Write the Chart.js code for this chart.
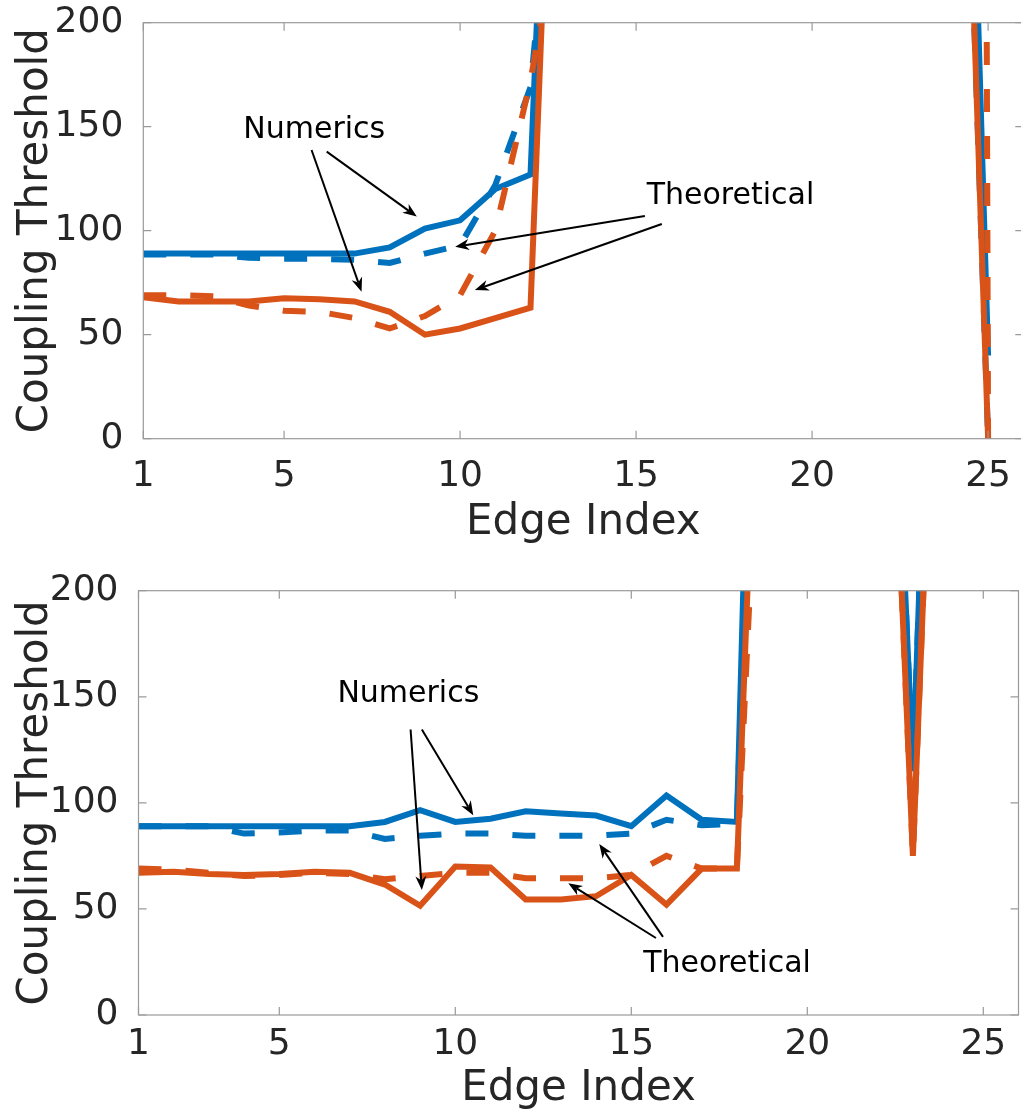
<!DOCTYPE html>
<html>
<head>
<meta charset="utf-8">
<script src="https://cdn.jsdelivr.net/npm/chart.js@4.4.0/dist/chart.umd.min.js"></script>
<style>
  html, body { margin: 0; padding: 0; background: #fff; overflow: hidden; }
  #wrap { position: relative; width: 1021px; height: 1114px; overflow: hidden; }
  canvas { position: absolute; left: 0; }
</style>
</head>
<body>
<div id="wrap">
  <canvas id="topChart" width="1060" height="571" style="top:-11px"></canvas>
  <canvas id="botChart" width="1021" height="557" style="top:557px"></canvas>
</div>
<script>
// edge indices and coupling thresholds
const EDGE_INDEX = [1, 2, 3, 4, 5, 6, 7, 8, 9, 10, 11, 12, 13, 14, 15, 16, 17, 18, 19, 20, 21, 22, 23, 24, 25];
const X_TICKS = [1, 5, 10, 15, 20, 25];
const Y_TICKS = [0, 50, 100, 150, 200];

// top panel (values above 200 run off the axes)
const TOP_NUM_BLUE = [89, 89, 89, 89, 89, 89, 89, 92, 101, 105, 120, 127, 532, 560, 575, 590, 600, 610, 615, 620, 620, 615, 610, 611, 40];
const TOP_NUM_ORANGE = [68, 66, 66, 66, 67.5, 67, 66, 61, 50, 53, 58, 63, 494, 500, 505, 510, 515, 515, 510, 510, 505, 505, 505, 506, 0];
const TOP_THEO_BLUE = [88.5, 88.5, 88.5, 87, 86.5, 86.5, 86, 84.5, 89, 93, 122, 169, 345, 900, 1500, 2500, 3000, 3500, 4000, 4500, 4800, 5000, 3000, 506, 0];
const TOP_THEO_ORANGE = [69, 69, 68.5, 64, 61.5, 61, 58, 53, 59, 69, 100, 172, 270, 800, 1400, 2200, 2800, 3300, 3800, 4300, 4700, 5000, 5000, 5000, 0];

// bottom panel
const BOT_NUM_BLUE = [89, 89, 89, 89, 89, 89, 89, 91, 96.5, 91, 92.5, 96, 95, 94, 89, 103.5, 92, 91, 696, 650, 600, 501, 115, 587, 600];
const BOT_NUM_ORANGE = [67, 67.5, 66.5, 66, 66.5, 67.5, 67, 61.5, 51.5, 70, 69.5, 54.5, 54.5, 56, 66, 52, 69, 69, 506, 480, 470, 466, 75, 492, 500];
const BOT_THEO_BLUE = [89, 89, 89, 85.5, 86, 87, 87, 83, 84.5, 85.5, 85.5, 84.5, 84.5, 84.5, 85.5, 92, 89.5, 90, 600, 560, 530, 501, 115, 587, 600];
const BOT_THEO_ORANGE = [69, 68.5, 67, 65.5, 66, 67, 66.5, 64, 65.5, 67, 67, 64.5, 64.5, 64.5, 66, 75, 69, 69, 425, 450, 460, 466, 75, 492, 500];

// annotation text and arrows, in data units
const TOP_NOTES = [
    { text: "Numerics", x: 3.84, y: 144.4 },
    { text: "Theoretical", x: 15.30, y: 112.7 },
];
const TOP_ARROWS = [
    [6.21, 138.0, 8.77, 106.8],
    [5.78, 138.8, 7.20, 70.7],
    [15.25, 107.1, 9.86, 92.3],
    [15.73, 103.2, 10.42, 71.5],
];
const BOT_NOTES = [
    { text: "Numerics", x: 6.65, y: 147.4 },
    { text: "Theoretical", x: 15.34, y: 20.4 },
];
const BOT_ARROWS = [
    [9.05, 134.6, 10.51, 94.2],
    [8.73, 134.6, 9.05, 58.9],
    [15.90, 36.8, 14.09, 80.6],
    [15.70, 36.3, 13.21, 62.1],
];

const BLUE = "#0072BD";
const ORANGE = "#D95319";
const TEXT = "#262626";
const FONT = "'DejaVu Sans', sans-serif";

const toPoints = (vals) => EDGE_INDEX.map((x, i) => ({ x, y: vals[i] }));

// MATLAB-like box with inward ticks on all four sides
const boxPlugin = {
    id: "matlabBox",
    afterDatasetsDraw(chart) {
        const { ctx, chartArea: a, scales: { x, y } } = chart;
        const len = 8;
        ctx.save();
        ctx.strokeStyle = "#9a9a9a";
        ctx.lineWidth = 1.2;
        ctx.strokeRect(a.left, a.top, a.right - a.left, a.bottom - a.top);
        ctx.beginPath();
        X_TICKS.forEach((v) => {
            const px = x.getPixelForValue(v);
            ctx.moveTo(px, a.bottom); ctx.lineTo(px, a.bottom - len);
            ctx.moveTo(px, a.top); ctx.lineTo(px, a.top + len);
        });
        Y_TICKS.forEach((v) => {
            const py = y.getPixelForValue(v);
            ctx.moveTo(a.left, py); ctx.lineTo(a.left + len, py);
            ctx.moveTo(a.right, py); ctx.lineTo(a.right - len, py);
        });
        ctx.stroke();
        ctx.restore();
    },
};

const notesPlugin = {
    id: "notes",
    afterDraw(chart, args, opts) {
        const { ctx, scales: { x, y } } = chart;
        ctx.save();
        ctx.fillStyle = "#000";
        ctx.strokeStyle = "#000";
        ctx.font = "30px " + FONT;
        ctx.textBaseline = "alphabetic";
        ctx.textAlign = "left";
        (opts.notes || []).forEach((n) => {
            ctx.fillText(n.text, x.getPixelForValue(n.x), y.getPixelForValue(n.y));
        });
        (opts.arrows || []).forEach(([x0, y0, x1, y1]) => {
            const sx = x.getPixelForValue(x0), sy = y.getPixelForValue(y0);
            const ex = x.getPixelForValue(x1), ey = y.getPixelForValue(y1);
            const ang = Math.atan2(ey - sy, ex - sx);
            const hl = 14, hw = 5.5;
            const cos = Math.cos(ang), sin = Math.sin(ang);
            ctx.lineWidth = 2;
            ctx.beginPath();
            ctx.moveTo(sx, sy);
            ctx.lineTo(ex - cos * hl * 0.7, ey - sin * hl * 0.7);
            ctx.stroke();
            ctx.beginPath();
            ctx.moveTo(ex, ey);
            ctx.lineTo(ex - cos * hl - sin * hw, ey - sin * hl + cos * hw);
            ctx.lineTo(ex - cos * hl * 0.7, ey - sin * hl * 0.7);
            ctx.lineTo(ex - cos * hl + sin * hw, ey - sin * hl - cos * hw);
            ctx.closePath();
            ctx.fill();
        });
        ctx.restore();
    },
};

function makeChart(id, series, cfg) {
    const solid = { borderWidth: 6, pointRadius: 0, fill: false, tension: 0, borderJoinStyle: "miter", borderCapStyle: "butt", clip: 0 };
    const dashed = { ...solid, borderDash: [23, 24] };
    return new Chart(document.getElementById(id), {
        type: "line",
        data: {
            datasets: [
                { ...dashed, label: "Theoretical (orange)", data: toPoints(series.theoOrange), borderColor: ORANGE, order: 1 },
                { ...solid, label: "Numerics (orange)", data: toPoints(series.numOrange), borderColor: ORANGE, order: 2 },
                { ...dashed, label: "Theoretical (blue)", data: toPoints(series.theoBlue), borderColor: BLUE, order: 3 },
                { ...solid, label: "Numerics (blue)", data: toPoints(series.numBlue), borderColor: BLUE, order: 4 },
            ],
        },
        options: {
            responsive: false,
            animation: false,
            events: [],
            layout: { padding: cfg.padding },
            plugins: {
                legend: { display: false },
                tooltip: { enabled: false },
                notes: { notes: cfg.notes, arrows: cfg.arrows },
            },
            scales: {
                x: {
                    type: "linear",
                    min: 1,
                    max: 26,
                    afterBuildTicks: (s) => { s.ticks = X_TICKS.map((v) => ({ value: v })); },
                    afterFit: (s) => { s.height = cfg.xAxisHeight; },
                    grid: { display: false },
                    border: { display: false },
                    ticks: { color: TEXT, font: { family: FONT, size: 36 }, padding: cfg.xTickPad, maxRotation: 0, autoSkip: false },
                    title: { display: true, text: "Edge Index", color: TEXT, font: { family: FONT, size: 42 }, padding: { top: 0, bottom: cfg.xTitlePad } },
                },
                y: {
                    min: 0,
                    max: 200,
                    afterBuildTicks: (s) => { s.ticks = Y_TICKS.map((v) => ({ value: v })); },
                    afterFit: (s) => { s.width = cfg.yAxisWidth; },
                    grid: { display: false },
                    border: { display: false },
                    ticks: { color: TEXT, font: { family: FONT, size: 36 }, padding: 12 },
                    title: { display: true, text: "Coupling Threshold", color: TEXT, font: { family: FONT, size: 42 }, padding: { top: 11, bottom: 0 } },
                },
            },
        },
        plugins: [boxPlugin, notesPlugin],
    });
}

makeChart("topChart", {
    numBlue: TOP_NUM_BLUE, numOrange: TOP_NUM_ORANGE, theoBlue: TOP_THEO_BLUE, theoOrange: TOP_THEO_ORANGE,
}, {
    padding: { top: 33.7, right: 36.7, bottom: 0, left: 0 },
    yAxisWidth: 143.3,
    xAxisHeight: 121.3,
    xTickPad: 8,
    xTitlePad: 12,
    notes: TOP_NOTES,
    arrows: TOP_ARROWS,
});

makeChart("botChart", {
    numBlue: BOT_NUM_BLUE, numOrange: BOT_NUM_ORANGE, theoBlue: BOT_THEO_BLUE, theoOrange: BOT_THEO_ORANGE,
}, {
    padding: { top: 33.7, right: 2.5, bottom: 0, left: 0 },
    yAxisWidth: 138.5,
    xAxisHeight: 99,
    xTickPad: 0,
    xTitlePad: 0,
    notes: BOT_NOTES,
    arrows: BOT_ARROWS,
});
</script>
</body>
</html>
